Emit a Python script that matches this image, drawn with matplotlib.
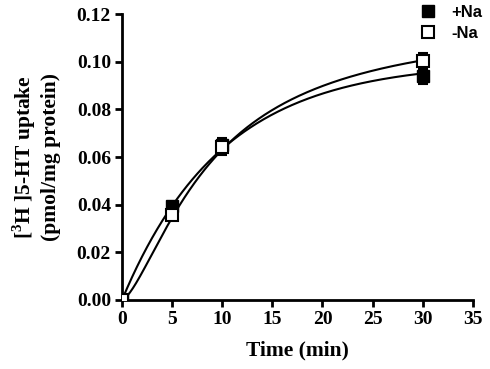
import numpy as np
import matplotlib
matplotlib.use("Agg")
import matplotlib.pyplot as plt
from matplotlib.lines import Line2D

time = [0, 5, 10, 30]
na_plus = [0.0, 0.0395, 0.065, 0.094]
na_plus_err = [0.0, 0.0015, 0.003, 0.0035]
na_minus = [0.0, 0.0355, 0.064, 0.1003]
na_minus_err = [0.0, 0.0015, 0.003, 0.0035]

# fitted curve parameters
plus_ymax, plus_k = 0.1, 0.1005
minus_ymax, minus_K, minus_n = 0.118, 9.1, 1.47

plt.rcParams['font.family'] = ['Liberation Serif', 'DejaVu Serif']
plt.rcParams['font.weight'] = 'bold'
plt.rcParams['mathtext.fontset'] = 'custom'
plt.rcParams['mathtext.bf'] = 'Liberation Serif:bold'
plt.rcParams['mathtext.rm'] = 'Liberation Serif'

fig = plt.figure(figsize=(4.9, 3.69), dpi=100)
ax = fig.add_axes([0.249, 0.187, 0.716, 0.775])

xs = np.linspace(0, 30, 300)
ax.plot(xs, plus_ymax * (1 - np.exp(-plus_k * xs)), color='black', lw=1.5, zorder=2)
ax.plot(xs, minus_ymax * xs**minus_n / (minus_K**minus_n + xs**minus_n), color='black', lw=1.5, zorder=2)

ax.errorbar(time, na_plus, yerr=na_plus_err, fmt='s', color='black', ms=8.5,
            mfc='black', mec='black', capsize=3.5, elinewidth=1.5, capthick=1.5, zorder=3)
ax.errorbar(time, na_minus, yerr=na_minus_err, fmt='s', color='black', ms=8.5,
            mfc='white', mec='black', mew=1.5, capsize=3.5, elinewidth=1.5, capthick=1.5, zorder=4)

ax.set_xlim(0, 35)
ax.set_ylim(0, 0.12)
ax.set_xticks(range(0, 36, 5))
ax.set_yticks(np.arange(0, 0.121, 0.02))
ax.set_yticklabels(['%.2f' % v for v in np.arange(0, 0.121, 0.02)])
for s in ['top', 'right']:
    ax.spines[s].set_visible(False)
for s in ['left', 'bottom']:
    ax.spines[s].set_linewidth(2)
ax.tick_params(width=2, length=5, labelsize=14, direction='out', pad=3)
for lbl in ax.get_xticklabels() + ax.get_yticklabels():
    lbl.set_fontweight('bold')

ax.set_xlabel('Time (min)', fontsize=15.5, fontweight='bold', labelpad=9)
ax.set_ylabel('[$^{\\mathbf{3}}$H ]5-HT uptake\n(pmol/mg protein)', fontsize=15.5,
              fontweight='bold', labelpad=11, linespacing=1.2)

handles = [Line2D([], [], ls='none', marker='s', ms=8.5, mfc='black', mec='black'),
           Line2D([], [], ls='none', marker='s', ms=8.5, mfc='white', mec='black', mew=1.5)]
leg = ax.legend(handles, ['+Na', '-Na'], loc='upper left', bbox_to_anchor=(0.805, 1.085),
                frameon=False, handlelength=1.0, handletextpad=0.9, labelspacing=0.35,
                prop={'family': 'Liberation Sans', 'weight': 'bold', 'size': 12})

fig.savefig('out.png', dpi=100)
